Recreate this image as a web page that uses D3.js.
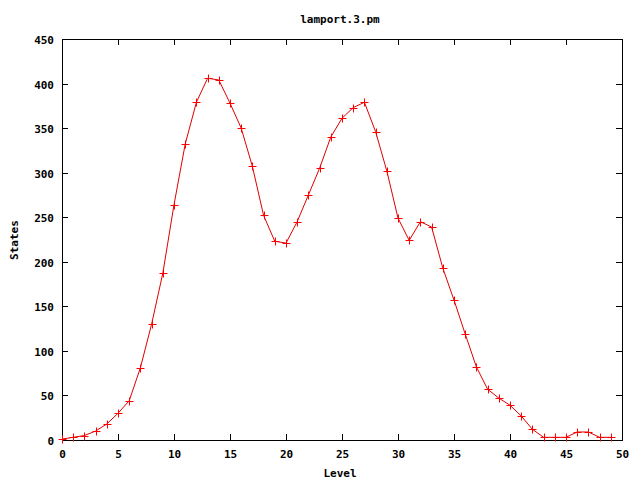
<!DOCTYPE html>
<html><head><meta charset="utf-8">
<script src="https://cdn.jsdelivr.net/npm/d3@7"></script>
<style>body{margin:0;background:#fff}svg{display:block}text{font-family:"DejaVu Sans Mono",monospace;font-weight:bold;font-size:11px}</style>
</head><body>
<script>
const levels = d3.range(0, 50);
const states = [1,3,5,10,18,30,44,81,130,187,264,332,379,406,404,378,350,307,252,223,221,245,275,305,340,361,373,379,346,302,249,224,245,239,193,157,119,82,57,47,39,27,12,3,3,3,9,9,3,3];
const xTicks = [0,5,10,15,20,25,30,35,40,45,50];
const yTicks = [0,50,100,150,200,250,300,350,400,450];
const title = "lamport.3.pm", xLabel = "Level", yLabel = "States";

const W=640,H=480,L=62,R=622,T=39,B=440;
const svg=d3.select("body").append("svg").attr("width",W).attr("height",H);
const x=d3.scaleLinear().domain([0,50]).range([L,R]);
const y=d3.scaleLinear().domain([0,450]).range([B,T]);

svg.append("rect").attr("x",L+0.5).attr("y",T+0.5).attr("width",R-L).attr("height",B-T).attr("fill","none").attr("stroke","#000");
const tl=6;
const g=svg.append("g");
xTicks.forEach(v=>{const px=Math.round(x(v))+0.5;
  g.append("line").attr("x1",px).attr("x2",px).attr("y1",B).attr("y2",B-tl).attr("stroke","#000");
  g.append("line").attr("x1",px).attr("x2",px).attr("y1",T).attr("y2",T+tl).attr("stroke","#000");
  g.append("text").attr("x",px).attr("y",B+18).attr("text-anchor","middle").text(v);});
yTicks.forEach(v=>{const py=Math.round(y(v))+0.5;
  g.append("line").attr("x1",L).attr("x2",L+tl).attr("y1",py).attr("y2",py).attr("stroke","#000");
  g.append("line").attr("x1",R).attr("x2",R-tl).attr("y1",py).attr("y2",py).attr("stroke","#000");
  g.append("text").attr("x",L-8).attr("y",py+4).attr("text-anchor","end").text(v);});

svg.append("text").attr("x",340).attr("y",23).attr("text-anchor","middle").text(title);
svg.append("text").attr("x",340).attr("y",477).attr("text-anchor","middle").text(xLabel);
svg.append("text").attr("transform","translate(18,240) rotate(-90)").attr("text-anchor","middle").text(yLabel);

const pts=levels.map((l,i)=>[l,states[i]]);
svg.append("path").attr("d",d3.line().x(d=>x(d[0])).y(d=>y(d[1]))(pts)).attr("fill","none").attr("stroke","#e00000").attr("stroke-width",1);
const s=4;
svg.append("g").selectAll("path").data(pts).join("path")
 .attr("d",d=>{const cx=Math.round(x(d[0]))+0.5,cy=Math.round(y(d[1]))+0.5;return `M${cx-s},${cy}H${cx+s}M${cx},${cy-s}V${cy+s}`;})
 .attr("stroke","#ff0000").attr("stroke-width",1).attr("fill","none");
</script>
</body></html>
